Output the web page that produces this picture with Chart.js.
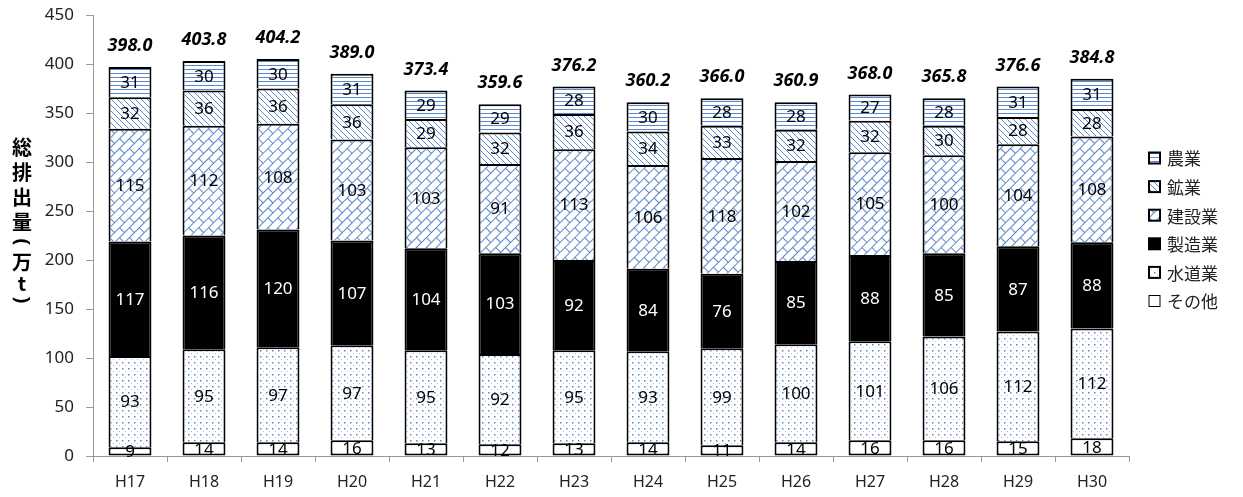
<!DOCTYPE html>
<html><head><meta charset="utf-8">
<script src="https://cdn.jsdelivr.net/npm/chart.js@4.4.0/dist/chart.umd.min.js"></script>
<style>html,body{margin:0;padding:0;background:#fff;}#wrap{width:1243px;height:497px;position:relative;}</style>
</head><body><div id="wrap"><canvas id="c" width="1243" height="497"></canvas></div>
<script>
const categories = ['H17','H18','H19','H20','H21','H22','H23','H24','H25','H26','H27','H28','H29','H30'];
const sonota   = [9,14,14,16,13,12,13,14,11,14,16,16,15,18];
const suido    = [93,95,97,97,95,92,95,93,99,100,101,106,112,112];
const seizo    = [117,116,120,107,104,103,92,84,76,85,88,85,87,88];
const kensetsu = [115,112,108,103,103,91,113,106,118,102,105,100,104,108];
const kogyo    = [32,36,36,36,29,32,36,34,33,32,32,30,28,28];
const nogyo    = [31,30,30,31,29,29,28,30,28,28,27,28,31,31];
const totals   = ['398.0','403.8','404.2','389.0','373.4','359.6','376.2','360.2','366.0','360.9','368.0','365.8','376.6','384.8'];
const yTicks   = [0,50,100,150,200,250,300,350,400,450];
const yTitle   = ['総','排','出','量','(','万','t',')'];

const BLUE = '#5a88cc';
function tile(w,h,draw){const c=document.createElement('canvas');c.width=w;c.height=h;const g=c.getContext('2d');g.fillStyle='#fff';g.fillRect(0,0,w,h);draw(g,w,h);return c;}
const ctx0 = document.getElementById('c').getContext('2d');
function patHLines(){return ctx0.createPattern(tile(4,4,(g)=>{g.fillStyle=BLUE;g.fillRect(0,1,4,1);}),'repeat');}
function patDiag(){return ctx0.createPattern(tile(6,6,(g,w,h)=>{g.strokeStyle=BLUE;g.lineWidth=1;g.beginPath();g.moveTo(-1,-1);g.lineTo(7,7);g.moveTo(-1,5);g.lineTo(1,7);g.moveTo(5,-1);g.lineTo(7,1);g.stroke();}),'repeat');}
function patBrick(){const p=ctx0.createPattern(tile(14,14,(g)=>{g.strokeStyle=BLUE;g.lineWidth=1;g.beginPath();g.moveTo(0,0.5);g.lineTo(14,0.5);g.moveTo(0,7.5);g.lineTo(14,7.5);g.moveTo(0.5,0);g.lineTo(0.5,7);g.moveTo(7.5,7);g.lineTo(7.5,14);g.stroke();}),'repeat');p.setTransform(new DOMMatrix().rotateSelf(-45));return p;}
function patDots(){return ctx0.createPattern(tile(6,6,(g)=>{g.fillStyle=BLUE;g.fillRect(2,2,1.5,1.5);g.fillStyle='#a9c0e4';g.fillRect(5,5,1.2,1.2);}),'repeat');}

const seriesDefs = [
  {label:'その他', data:sonota, bg:'#ffffff', text:'#000'},
  {label:'水道業', data:suido, bg:patDots(), text:'#000'},
  {label:'製造業', data:seizo, bg:'#000000', text:'#fff'},
  {label:'建設業', data:kensetsu, bg:patBrick(), text:'#000'},
  {label:'鉱業', data:kogyo, bg:patDiag(), text:'#000'},
  {label:'農業', data:nogyo, bg:patHLines(), text:'#000'}
];
const NUMFONT = "'Noto Sans','Noto Sans CJK JP',sans-serif";

const labelsPlugin = {
  id:'segLabels',
  afterDatasetsDraw(chart){
    const g=chart.ctx; g.save();
    g.textAlign='center'; g.textBaseline='middle';
    g.font="17px "+NUMFONT;
    chart.data.datasets.forEach((ds,i)=>{
      const meta=chart.getDatasetMeta(i);
      meta.data.forEach((el,j)=>{
        g.fillStyle=seriesDefs[i].text;
        g.fillText(String(ds.data[j]), el.x, (el.y+el.base)/2+1);
      });
    });
    const top=chart.getDatasetMeta(chart.data.datasets.length-1);
    g.font="italic bold 18px "+NUMFONT; g.fillStyle='#000';
    top.data.forEach((el,j)=>{ g.fillText(totals[j], el.x, el.y-21); });
    g.restore();
  }
};
const extrasPlugin = {
  id:'extras',
  afterDraw(chart){
    const g=chart.ctx; g.save();
    g.fillStyle='#000'; g.textAlign='center'; g.textBaseline='middle';
    const ys=[147,172,197,222,242,262,283,300];
    yTitle.forEach((ch,k)=>{
      if(ch==='('||ch===')'){
        g.font="bold 20px 'Noto Sans',sans-serif";
        g.save(); g.translate(22,ys[k]); g.rotate(Math.PI/2); g.fillText(ch,0,0); g.restore();
      } else {
        g.font="bold 20px 'Noto Sans CJK JP',sans-serif";
        g.fillText(ch, 22, ys[k]);
      }
    });
    g.font="17px 'Noto Sans CJK JP',sans-serif"; g.textAlign='left';
    const items=seriesDefs.slice().reverse();
    items.forEach((s,k)=>{
      const y=158+k*28.6;
      const bx=1149, bs=11;
      g.fillStyle=s.bg; g.fillRect(bx,y-bs/2,bs,bs);
      g.strokeStyle='#000'; g.lineWidth=(s.label==='その他')?1:2;
      g.strokeRect(bx,y-bs/2,bs,bs);
      g.fillStyle='#222'; g.fillText(s.label, 1167, y+1);
    });
    g.restore();
  }
};

new Chart(document.getElementById('c'),{
  type:'bar',
  data:{labels:categories,
    datasets:seriesDefs.map((s,i)=>({label:s.label,data:s.data,backgroundColor:s.bg,borderColor:'#000',borderWidth:2,borderSkipped:i===0?false:'start',categoryPercentage:1,barPercentage:0.58}))},
  options:{
    responsive:false,animation:false,
    layout:{padding:{top:15,right:114,left:0,bottom:0}},
    plugins:{legend:{display:false},tooltip:{enabled:false}},
    scales:{
      x:{stacked:true,
        grid:{display:true,drawOnChartArea:false,offset:true,tickLength:6,color:'#999'},
        border:{color:'#999',width:1},
        ticks:{color:'#222',font:{size:16,family:NUMFONT},padding:11},
        afterFit(s){s.height=41;s.paddingLeft=0;s.paddingRight=0;}
      },
      y:{stacked:true,min:0,max:450,
        afterBuildTicks(s){s.ticks=yTicks.map(v=>({value:v}));},
        grid:{display:true,drawOnChartArea:false,tickLength:7,color:'#999'},
        border:{color:'#999',width:1},
        ticks:{color:'#222',font:{size:17,family:NUMFONT},padding:12},
        afterFit(s){s.width=93;s.paddingTop=0;s.paddingBottom=0;}
      }
    }
  },
  plugins:[labelsPlugin,extrasPlugin]
});
</script></body></html>
